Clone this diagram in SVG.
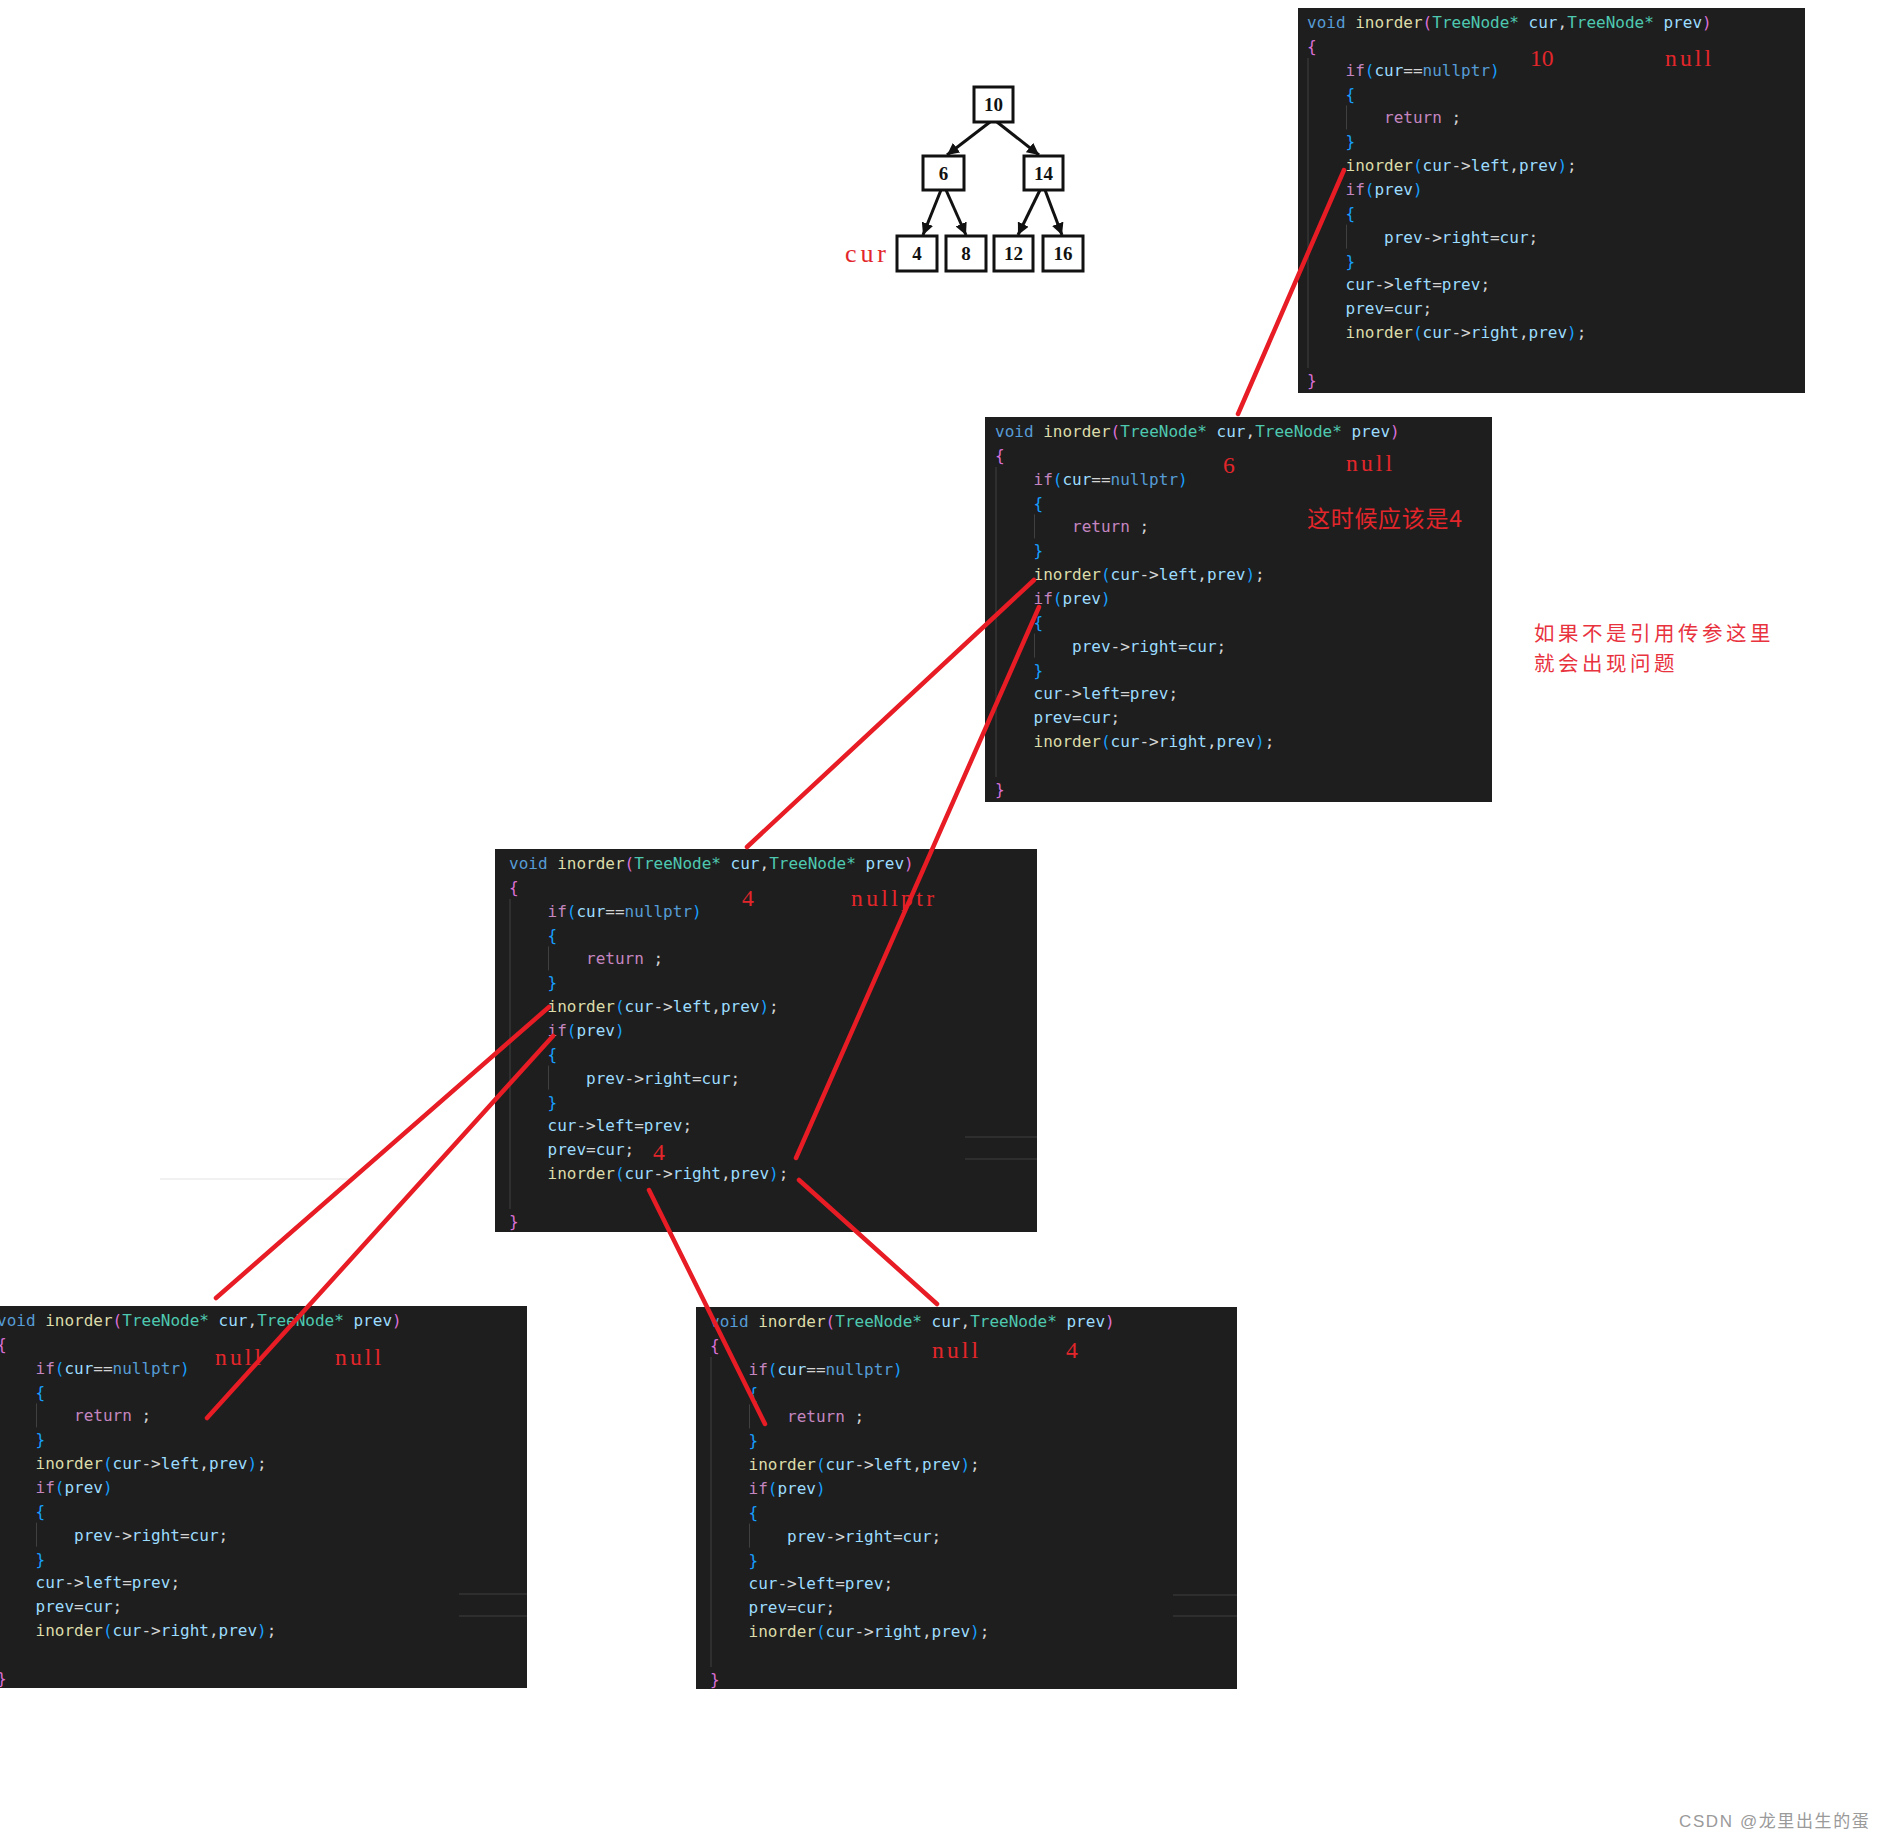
<svg xmlns="http://www.w3.org/2000/svg" width="1884" height="1844" viewBox="0 0 1884 1844">
<style>
.bg{fill:#1e1e1e}
.code text{font-family:"DejaVu Sans Mono","Liberation Mono",monospace;font-size:16px;white-space:pre;fill:#9cdcfe}
.code .kw{fill:#569cd6}.code .fn{fill:#dcdcaa}.code .p1{fill:#da70d6}.code .ty{fill:#4ec9b0}.code .va{fill:#9cdcfe}.code .op{fill:#d4d4d4}.code .p2{fill:#179fff}.code .ctl{fill:#c586c0}.code .nu{fill:#569cd6}
.guide{stroke:#404040;stroke-width:1}
.hl{stroke:#2e2e2e;stroke-width:2}
.ann{font-family:"Liberation Serif",serif;font-size:23.6px;fill:#e3262b}
.cjk{font-family:"Noto Sans CJK SC",sans-serif;fill:#e8333f}
.tn rect{fill:#fff;stroke:#111;stroke-width:3}
.tn text{font-family:"Liberation Serif",serif;font-weight:bold;font-size:19px;fill:#111;text-anchor:middle}
.tarrow{stroke:#111;stroke-width:3;marker-end:url(#ah)}
.red{stroke:#e81c24;stroke-width:4.5;stroke-linecap:round;fill:none}
</style>
<defs>
<marker id="ah" markerUnits="userSpaceOnUse" markerWidth="13" markerHeight="12" refX="12" refY="6" orient="auto"><path d="M0,0 L12,6 L0,12 z" fill="#111"/></marker>
<g id="code" class="code">
<line class="guide" x1="1" y1="30" x2="1" y2="340"/>
<line class="guide" x1="39.5" y1="77.4" x2="39.5" y2="101.4"/>
<line class="guide" x1="39.5" y1="196.6" x2="39.5" y2="220.6"/>
<text x="0" y="0"><tspan class="kw">void</tspan> <tspan class="fn">inorder</tspan><tspan class="p1">(</tspan><tspan class="ty">TreeNode*</tspan> <tspan class="va">cur</tspan><tspan class="op">,</tspan><tspan class="ty">TreeNode*</tspan> <tspan class="va">prev</tspan><tspan class="p1">)</tspan></text>
<text x="0" y="23.85" class="p1">{</text>
<text x="38.5" y="47.7"><tspan class="ctl">if</tspan><tspan class="p2">(</tspan><tspan class="va">cur</tspan><tspan class="op">==</tspan><tspan class="nu">nullptr</tspan><tspan class="p2">)</tspan></text>
<text x="38.5" y="71.55" class="p2">{</text>
<text x="77" y="95.4"><tspan class="ctl">return</tspan><tspan class="op"> ;</tspan></text>
<text x="38.5" y="119.25" class="p2">}</text>
<text x="38.5" y="143.1"><tspan class="fn">inorder</tspan><tspan class="p2">(</tspan><tspan class="va">cur</tspan><tspan class="op">-&gt;</tspan><tspan class="va">left</tspan><tspan class="op">,</tspan><tspan class="va">prev</tspan><tspan class="p2">)</tspan><tspan class="op">;</tspan></text>
<text x="38.5" y="166.95"><tspan class="ctl">if</tspan><tspan class="p2">(</tspan><tspan class="va">prev</tspan><tspan class="p2">)</tspan></text>
<text x="38.5" y="190.8" class="p2">{</text>
<text x="77" y="214.65"><tspan class="va">prev</tspan><tspan class="op">-&gt;</tspan><tspan class="va">right</tspan><tspan class="op">=</tspan><tspan class="va">cur</tspan><tspan class="op">;</tspan></text>
<text x="38.5" y="238.5" class="p2">}</text>
<text x="38.5" y="262.35"><tspan class="va">cur</tspan><tspan class="op">-&gt;</tspan><tspan class="va">left</tspan><tspan class="op">=</tspan><tspan class="va">prev</tspan><tspan class="op">;</tspan></text>
<text x="38.5" y="286.2"><tspan class="va">prev</tspan><tspan class="op">=</tspan><tspan class="va">cur</tspan><tspan class="op">;</tspan></text>
<text x="38.5" y="310.05"><tspan class="fn">inorder</tspan><tspan class="p2">(</tspan><tspan class="va">cur</tspan><tspan class="op">-&gt;</tspan><tspan class="va">right</tspan><tspan class="op">,</tspan><tspan class="va">prev</tspan><tspan class="p2">)</tspan><tspan class="op">;</tspan></text>
<text x="0" y="357.75" class="p1">}</text>
</g>
</defs>
<rect width="1884" height="1844" fill="#fff"/>

<g id="tree">
<g id="tree-edges">
<line class="tarrow" x1="990" y1="122" x2="947" y2="155"/>
<line class="tarrow" x1="997" y1="122" x2="1039" y2="155"/>
<line class="tarrow" x1="941" y1="190" x2="923" y2="235"/>
<line class="tarrow" x1="946" y1="190" x2="966" y2="235"/>
<line class="tarrow" x1="1040" y1="190" x2="1018" y2="235"/>
<line class="tarrow" x1="1045" y1="190" x2="1062" y2="235"/>
</g>
<g id="tn10" class="tn"><rect x="974" y="87" width="39" height="35"/><text x="993.5" y="111">10</text></g>
<g id="tn6" class="tn"><rect x="923" y="156" width="41" height="34"/><text x="943.5" y="179.5">6</text></g>
<g id="tn14" class="tn"><rect x="1024" y="156" width="39" height="34"/><text x="1043.5" y="179.5">14</text></g>
<g id="tn4" class="tn"><rect x="897" y="236" width="40" height="35"/><text x="917" y="260">4</text></g>
<g id="tn8" class="tn"><rect x="946" y="236" width="40" height="35"/><text x="966" y="260">8</text></g>
<g id="tn12" class="tn"><rect x="994" y="236" width="39" height="35"/><text x="1013.5" y="260">12</text></g>
<g id="tn16" class="tn"><rect x="1043" y="236" width="40" height="35"/><text x="1063" y="260">16</text></g>
<text class="ann" x="845" y="262" style="font-size:26px" textLength="41" lengthAdjust="spacing">cur</text>
</g>

<g id="box1">
<rect class="bg" x="1298" y="8" width="507" height="385"/>
<use href="#code" x="1307" y="28"/>
<text class="ann" x="1530" y="66">10</text>
<text class="ann" x="1665" y="66" textLength="46" lengthAdjust="spacing">null</text>
</g>

<g id="box2">
<rect class="bg" x="985" y="417" width="507" height="385"/>
<use href="#code" x="995" y="437"/>
<text class="ann" x="1223" y="473">6</text>
<text class="ann" x="1346" y="471" textLength="46" lengthAdjust="spacing">null</text>
<text class="cjk" x="1307" y="527" style="font-size:23px;fill:#e3262b" textLength="155" lengthAdjust="spacing">这时候应该是4</text>
</g>

<g id="box3">
<rect class="bg" x="495" y="849" width="542" height="383"/>
<line class="hl" x1="965" y1="1137" x2="1037" y2="1137"/>
<line class="hl" x1="965" y1="1159" x2="1037" y2="1159"/>
<use href="#code" x="509" y="869"/>
<text class="ann" x="742" y="906">4</text>
<text class="ann" x="851" y="906" textLength="83" lengthAdjust="spacing">nullptr</text>
<text class="ann" x="653" y="1160">4</text>
</g>

<g id="box4">
<rect class="bg" x="-15" y="1306" width="542" height="382"/>
<line class="hl" x1="459" y1="1594" x2="527" y2="1594"/>
<line class="hl" x1="459" y1="1616" x2="527" y2="1616"/>
<use href="#code" x="-3" y="1326"/>
<text class="ann" x="215" y="1365" textLength="46" lengthAdjust="spacing">null</text>
<text class="ann" x="335" y="1365" textLength="46" lengthAdjust="spacing">null</text>
</g>

<g id="box5">
<rect class="bg" x="696" y="1307" width="541" height="382"/>
<line class="hl" x1="1173" y1="1595" x2="1237" y2="1595"/>
<line class="hl" x1="1173" y1="1616" x2="1237" y2="1616"/>
<use href="#code" x="710" y="1327"/>
<text class="ann" x="932" y="1358" textLength="46" lengthAdjust="spacing">null</text>
<text class="ann" x="1066" y="1358">4</text>
</g>

<g id="note">
<text class="cjk" x="1534" y="641" style="font-size:20.5px;letter-spacing:3.5px">如果不是引用传参这里</text>
<text class="cjk" x="1534" y="671" style="font-size:20.5px;letter-spacing:3.5px">就会出现问题</text>
</g>

<line x1="160" y1="1179" x2="353" y2="1179" stroke="#ececec" stroke-width="1.5"/>

<g id="connectors">
<line class="red" x1="1344" y1="170" x2="1238" y2="414"/>
<line class="red" x1="1034" y1="580" x2="747" y2="847"/>
<line class="red" x1="1039" y1="607" x2="796" y2="1158"/>
<line class="red" x1="549" y1="1007" x2="216" y2="1298"/>
<line class="red" x1="553" y1="1036" x2="207" y2="1418"/>
<line class="red" x1="649" y1="1190" x2="765" y2="1424"/>
<line class="red" x1="799" y1="1180" x2="937" y2="1304"/>
</g>

<text id="watermark" x="1679" y="1827" style="font-family:'Liberation Sans','Noto Sans CJK SC',sans-serif;font-size:17px;letter-spacing:1.6px;fill:#9a9a9a">CSDN @龙里出生的蛋</text>
</svg>
